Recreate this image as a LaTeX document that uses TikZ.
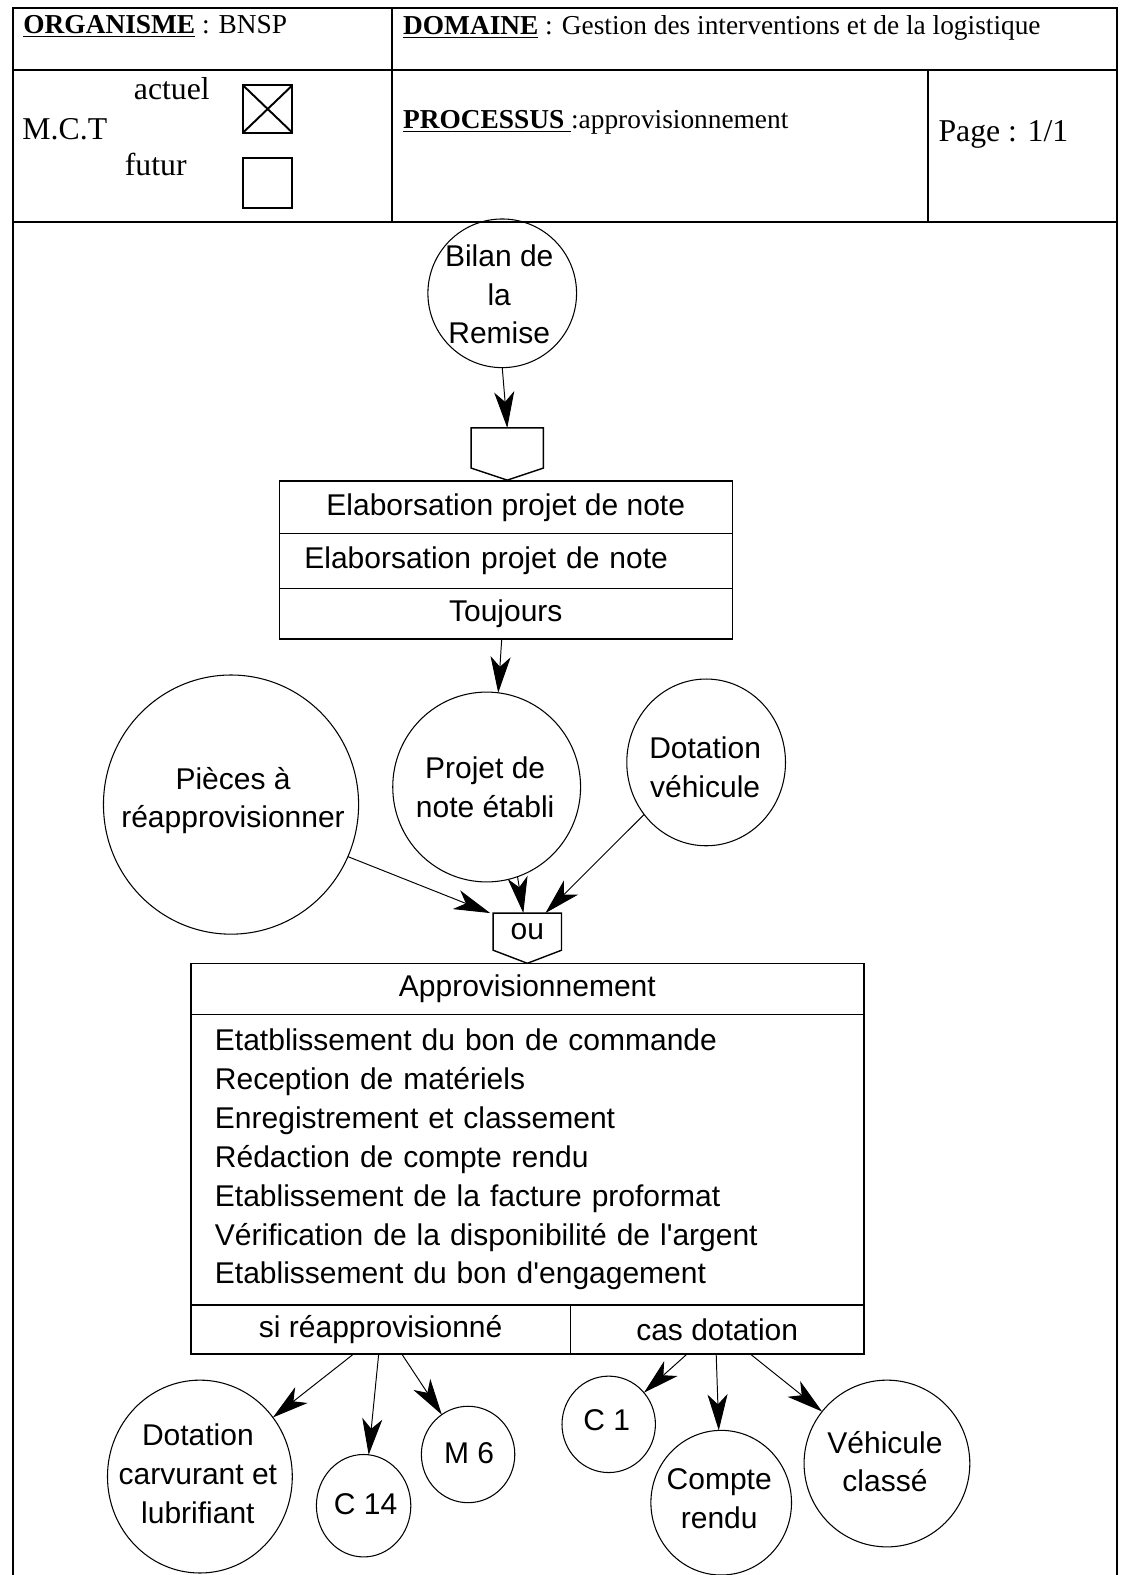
\documentclass[tikz,border=0pt]{standalone}
\usepackage{fontspec}
\setmainfont{Liberation Serif}
\setsansfont{Liberation Sans}
\usepackage{tikz}
\usetikzlibrary{calc,arrows.meta,positioning,shapes.geometric}

% one grid unit
\newcommand{\gridu}{0.02cm}
% event box: rectangle with a pointed bottom
\newcommand{\evtoutline}[2]{\draw[line width=0.8pt] (#1.north west) -- (#1.north east) -- (#1.south east) -- ($(#1.south)+(0,#2)$) -- (#1.south west) -- cycle;}

\tikzset{
  frame/.style={line width=1.1pt},
  opbox/.style={draw, rectangle, line width=0.8pt, inner sep=0pt, outer sep=0pt,
    font=\sffamily\fontsize{17}{22}\selectfont},
  evt/.style={rectangle, inner sep=0pt, outer sep=0pt, font=\sffamily\fontsize{17}{22}\selectfont},
  bub/.style={draw, ellipse, line width=0.6pt, inner sep=0pt, outer sep=0pt},
  bubtext/.style={align=center, inner sep=0pt, font=\sffamily\fontsize{17}{22}\selectfont},
  flow/.style={line width=0.55pt, -{Stealth[length=0.72cm, width=0.4cm, inset=0.2cm]}},
  hdr/.style={anchor=base west, inner sep=0pt, font=\fontsize{15.5}{18}\selectfont},
  hdrbig/.style={anchor=base west, inner sep=0pt, font=\fontsize{18}{21}\selectfont},
}

\begin{document}
\begin{tikzpicture}[x=\gridu, y=-\gridu]
\useasboundingbox (0,0) rectangle (1117,1568);

% Header form
\draw[frame] (13,1568) -- (13,8) -- (1112,8) -- (1112,1568);
\draw[frame] (13,70) -- (1112,70);
\draw[frame] (13,221) -- (1112,221);
\draw[frame] (390,8) -- (390,221);
\draw[frame] (924,70) -- (924,221);

\node[hdr] (organisme) at (23,33) {\underline{\textbf{ORGANISME}} : BNSP};
\node[hdr] (domaine) at (401,34) {\underline{\textbf{DOMAINE}} : Gestion des interventions et de la logistique};
\node[hdrbig] (actuel) at (133,99) {actuel};
\node[hdrbig] (mct) at (22,139) {M.C.T};
\node[hdrbig] (futur) at (124,175) {futur};
\node[hdr] (processus) at (401,128) {\underline{\textbf{PROCESSUS }}:approvisionnement};
\node[hdrbig] (page) at (934,141) {Page : 1/1};

% check boxes
\draw[line width=1.1pt] (242,85) rectangle (291,132);
\draw[line width=1.1pt] (242,85) -- (291,132) (242,132) -- (291,85);
\draw[line width=1.1pt] (242,157) rectangle (291,207);

% Start event
\node[bub, minimum width=148*\gridu, minimum height=148*\gridu] (bilan) at (500,292) {};
\node[bubtext] (bilanT) at (497,293) {Bilan de\\la\\Remise};

% Operation 1
\node[evt, minimum width=72*\gridu, minimum height=40*\gridu] (evtA) at (505,446) {};
\evtoutline{evtA}{12}
\node[opbox, minimum width=451*\gridu, minimum height=52*\gridu] (elabA) at (503.5,505) {Elaborsation projet de note};
\node[opbox, minimum width=451*\gridu, minimum height=55*\gridu, text width=401*\gridu,
  inner xsep=25*\gridu, align=left, below=0pt of elabA] (elabB) {Elaborsation projet de note};
\node[opbox, minimum width=451*\gridu, minimum height=50*\gridu, below=0pt of elabB] (toujours) {Toujours};

\draw[flow] (bilan.south) -- (evtA.north);

% Events feeding operation 2
\node[bub, minimum width=254*\gridu, minimum height=258*\gridu] (pieces) at (230,801) {};
\node[bubtext] (piecesT) at (232,797) {Pièces à\\réapprovisionner};
\node[bub, minimum width=187*\gridu, minimum height=189*\gridu] (projet) at (484.5,783.5) {};
\node[bubtext] (projetT) at (483,784) {Projet de\\note établi};
\node[bub, minimum width=158*\gridu, minimum height=166*\gridu] (dotveh) at (703,759) {};
\node[bubtext] (dotvehT) at (702,764) {Dotation\\véhicule};

\draw[flow] ($(toujours.south)+(-4,0)$) -- (projet.83);

% Operation 2
\node[evt, minimum width=68*\gridu, minimum height=37*\gridu] (ou) at (525,927.5) {ou};
\evtoutline{ou}{13}

\draw[flow] (pieces.-24) -- ($(ou.north west)+(-3,0)$);
\draw[flow] (projet.-71) -- ($(ou.north)+(-4,0)$);
\draw[flow] (dotveh.-140) -- ($(ou.north)+(18,0)$);

\node[opbox, minimum width=670*\gridu, minimum height=51*\gridu] (appro) at (525,984.5) {Approvisionnement};
\node[opbox, minimum width=670*\gridu, minimum height=289*\gridu, text width=622*\gridu,
  inner xsep=24*\gridu, align=left, below=0pt of appro] (taches) {%
  Etatblissement du bon de commande\\
  Reception de matériels\\
  Enregistrement et classement\\
  Rédaction de compte rendu\\
  Etablissement de la facture proformat\\
  Vérification de la disponibilité de l\textquotesingle argent\\
  Etablissement du bon d\textquotesingle engagement};
\node[opbox, minimum width=378*\gridu, minimum height=49*\gridu, anchor=north west] (reap) at (taches.south west) {si réapprovisionné};
\node[opbox, minimum width=292*\gridu, minimum height=49*\gridu, anchor=north east] (casdot) at (taches.south east) {cas dotation};

% Resulting events
\node[bub, minimum width=184*\gridu, minimum height=192*\gridu] (dotcarb) at (199,1470) {};
\node[bubtext] (dotcarbT) at (197,1467) {Dotation\\carvurant et\\lubrifiant};
\node[bub, minimum width=94*\gridu, minimum height=102*\gridu] (cquat) at (362,1499) {};
\node[bubtext] (cquatT) at (364,1497) {C 14};
\node[bub, minimum width=93*\gridu, minimum height=96*\gridu] (msix) at (466,1448) {};
\node[bubtext] (msixT) at (467,1447) {M 6};
\node[bub, minimum width=93*\gridu, minimum height=96*\gridu] (cun) at (606,1418) {};
\node[bubtext] (cunT) at (604,1414) {C 1};
\node[bub, minimum width=140*\gridu, minimum height=144*\gridu] (compte) at (718,1496) {};
\node[bubtext] (compteT) at (716,1492) {Compte\\rendu};
\node[bub, minimum width=165*\gridu, minimum height=166*\gridu] (vehclas) at (883,1457) {};
\node[bubtext] (vehclasT) at (881,1455) {Véhicule\\classé};

% outgoing connectors
\coordinate (r1) at (352,1348);
\coordinate (r2) at (377,1348);
\coordinate (r3) at (400,1348);
\coordinate (d1) at (684,1348);
\coordinate (d2) at (713,1348);
\coordinate (d3) at (747,1348);

\draw[flow] (r1) -- (dotcarb.39);
\draw[flow] (r2) -- (cquat);
\draw[flow] (r3) -- (msix);
\draw[flow] (d1) -- (cun);
\draw[flow] (d2) -- (compte);
\draw[flow] (d3) -- (vehclas);

\end{tikzpicture}
\end{document}
